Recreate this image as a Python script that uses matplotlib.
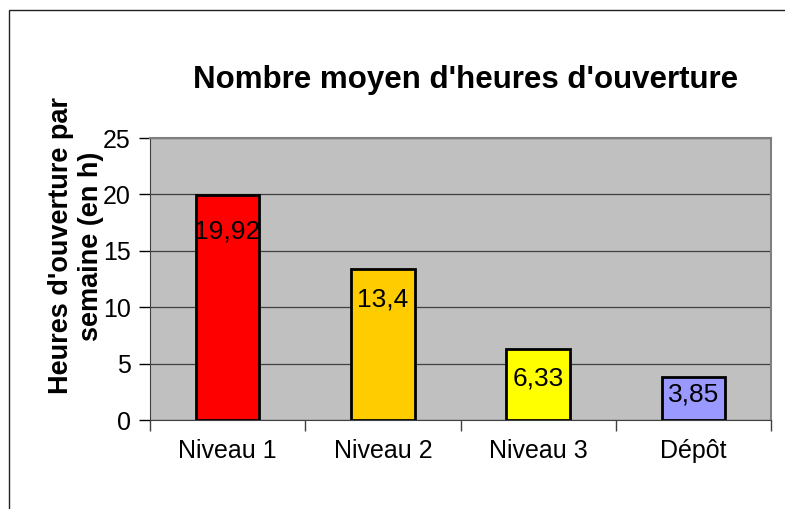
import matplotlib.pyplot as plt
from matplotlib.patches import Rectangle

plt.rcParams['font.family'] = ['Liberation Sans', 'DejaVu Sans']

# data
categories = ["Niveau 1", "Niveau 2", "Niveau 3", "Dépôt"]
values = [19.92, 13.4, 6.33, 3.85]
value_labels = ["19,92", "13,4", "6,33", "3,85"]
colors = ["#FF0000", "#FFCC00", "#FFFF00", "#9999FF"]
label_gaps = [24, 19, 18, 6]  # pixels below bar top (as in the original)

fig = plt.figure(figsize=(7.85, 5.09), dpi=100)
ax = fig.add_axes([150 / 785, 1 - 420 / 509, (771 - 150) / 785, (420 - 138) / 509])
ax.set_facecolor("#C0C0C0")

x = list(range(len(categories)))
bars = ax.bar(x, values, width=0.41, color=colors, edgecolor="black", linewidth=2, zorder=3)

for b, lab, gap in zip(bars, value_labels, label_gaps):
    ax.annotate(lab, (b.get_x() + b.get_width() / 2, b.get_height()),
                xytext=(0, -gap), textcoords="offset pixels",
                ha="center", va="top", fontsize=19, zorder=4)

ax.set_ylim(0, 25)
ax.set_xlim(-0.5, len(categories) - 0.5)
ax.set_yticks([0, 5, 10, 15, 20, 25])
ax.yaxis.grid(True, color="#404040", linewidth=0.9, zorder=1)
ax.set_axisbelow(True)

ax.set_xticks(x)
ax.set_xticklabels(categories)
ax.set_xticks([i - 0.5 for i in range(len(categories) + 1)], minor=True)
ax.tick_params(axis="x", which="major", length=0, labelsize=18, pad=14)
ax.tick_params(axis="x", which="minor", length=8, width=1, color="#404040", direction="out")
ax.tick_params(axis="y", length=8, width=1, labelsize=18, pad=6, direction="out")

for side in ["top", "right"]:
    ax.spines[side].set_color("#808080")
    ax.spines[side].set_linewidth(1.5)
ax.spines["left"].set_color("#404040")
ax.spines["bottom"].set_color("#404040")

fig.text(466 / 785, 1 - 80 / 509, "Nombre moyen d'heures d'ouverture",
         ha="center", va="center", fontsize=22.5, fontweight="bold")
fig.text(76 / 785, 1 - 246 / 509, "Heures d'ouverture par\nsemaine (en h)",
         ha="center", va="center", rotation=90, multialignment="center",
         fontsize=19.5, fontweight="bold")

# outer frame (cut off on the right and bottom)
fig.patches.append(Rectangle((9 / 785, -0.5), 2, 1.5 - 10 / 509,
                             transform=fig.transFigure, fill=False,
                             edgecolor="#222222", linewidth=1))

fig.savefig("out.png", dpi=100)
